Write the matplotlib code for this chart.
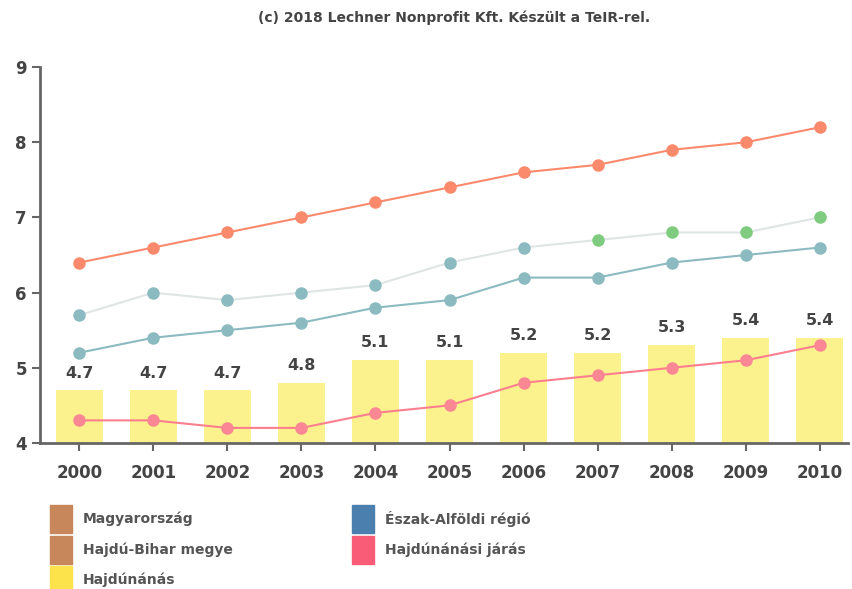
import matplotlib
matplotlib.use("Agg")
import matplotlib.pyplot as plt
from matplotlib.patches import Rectangle

plt.rcParams['font.family'] = ['DejaVu Sans']

# adatok
years = [2000, 2001, 2002, 2003, 2004, 2005, 2006, 2007, 2008, 2009, 2010]
hajdunanas = [4.7, 4.7, 4.7, 4.8, 5.1, 5.1, 5.2, 5.2, 5.3, 5.4, 5.4]
magyarorszag = [6.4, 6.6, 6.8, 7.0, 7.2, 7.4, 7.6, 7.7, 7.9, 8.0, 8.2]
hajdu_bihar = [5.7, 6.0, 5.9, 6.0, 6.1, 6.4, 6.6, 6.7, 6.8, 6.8, 7.0]
eszak_alfold = [5.2, 5.4, 5.5, 5.6, 5.8, 5.9, 6.2, 6.2, 6.4, 6.5, 6.6]
jaras = [4.3, 4.3, 4.2, 4.2, 4.4, 4.5, 4.8, 4.9, 5.0, 5.1, 5.3]

title = "(c) 2018 Lechner Nonprofit Kft. Készült a TeIR-rel."
labels = ["Magyarország", "Hajdú-Bihar megye", "Hajdúnánás",
          "Észak-Alföldi régió", "Hajdúnánási járás"]
leg_colors = ['#c8875b', '#c8875b', '#fce34c', '#4a7fae', '#f95c76']

txt = '#444444'
W, H = 853, 589
fig = plt.figure(figsize=(W / 100, H / 100), dpi=100)
ax = fig.add_axes([0.047, 0.248, 0.947, 0.638])

# oszlopok
ax.bar(years, [v - 4 for v in hajdunanas], bottom=4, width=0.63,
       color='#fbf07a', alpha=0.85, zorder=1)
for x, v in zip(years, hajdunanas):
    ax.text(x, v + 0.13, f"{v}", ha='center', va='bottom', fontsize=11.5,
            fontweight='bold', color=txt, zorder=5)

# vonalak
ax.plot(years, magyarorszag, color='#fb8a6c', lw=1.5, marker='o', ms=8, zorder=3)
ax.plot(years, hajdu_bihar, color='#dfe5e5', lw=1.5, zorder=2)
ax.scatter(years[:7], hajdu_bihar[:7], s=64, color='#8bbac0', zorder=3)
ax.scatter(years[7:], hajdu_bihar[7:], s=64, color='#7fcb7f', zorder=3)
ax.plot(years, eszak_alfold, color='#8bbac0', lw=1.5, marker='o', ms=8, zorder=3)
ax.plot(years, jaras, color='#fb7f8e', lw=1.5, marker='o', ms=8,
        mfc='#fb8794', mec='#fb8794', zorder=3)

ax.set_xlim(1999.47, 2010.38)
ax.set_ylim(4, 9)
ax.set_xticks(years)
ax.set_yticks([4, 5, 6, 7, 8, 9])
for s in ['top', 'right']:
    ax.spines[s].set_visible(False)
for s in ['left', 'bottom']:
    ax.spines[s].set_color('#666666')
    ax.spines[s].set_linewidth(2)
ax.tick_params(axis='both', colors='#666666', length=6, width=1.5,
               labelsize=12, labelcolor=txt)
ax.tick_params(axis='x', pad=9)
for lab in ax.get_xticklabels() + ax.get_yticklabels():
    lab.set_fontweight('bold')

fig.text(454 / W, 1 - 18 / H, title, ha='center', va='center', fontsize=10,
         fontweight='bold', color=txt)

# jelmagyarázat kézzel
pos = [(50, 519), (50, 550), (50, 580), (352, 519), (352, 550)]
for (px, py), lab, c in zip(pos, labels, leg_colors):
    fig.patches.append(Rectangle((px / W, 1 - (py + 14) / H), 22 / W, 28 / H,
                                 color=c, transform=fig.transFigure, figure=fig))
    fig.text((px + 33) / W, 1 - py / H, lab, ha='left', va='center',
             fontsize=10, fontweight='bold', color='#555555')

fig.savefig('out.png', dpi=100)
